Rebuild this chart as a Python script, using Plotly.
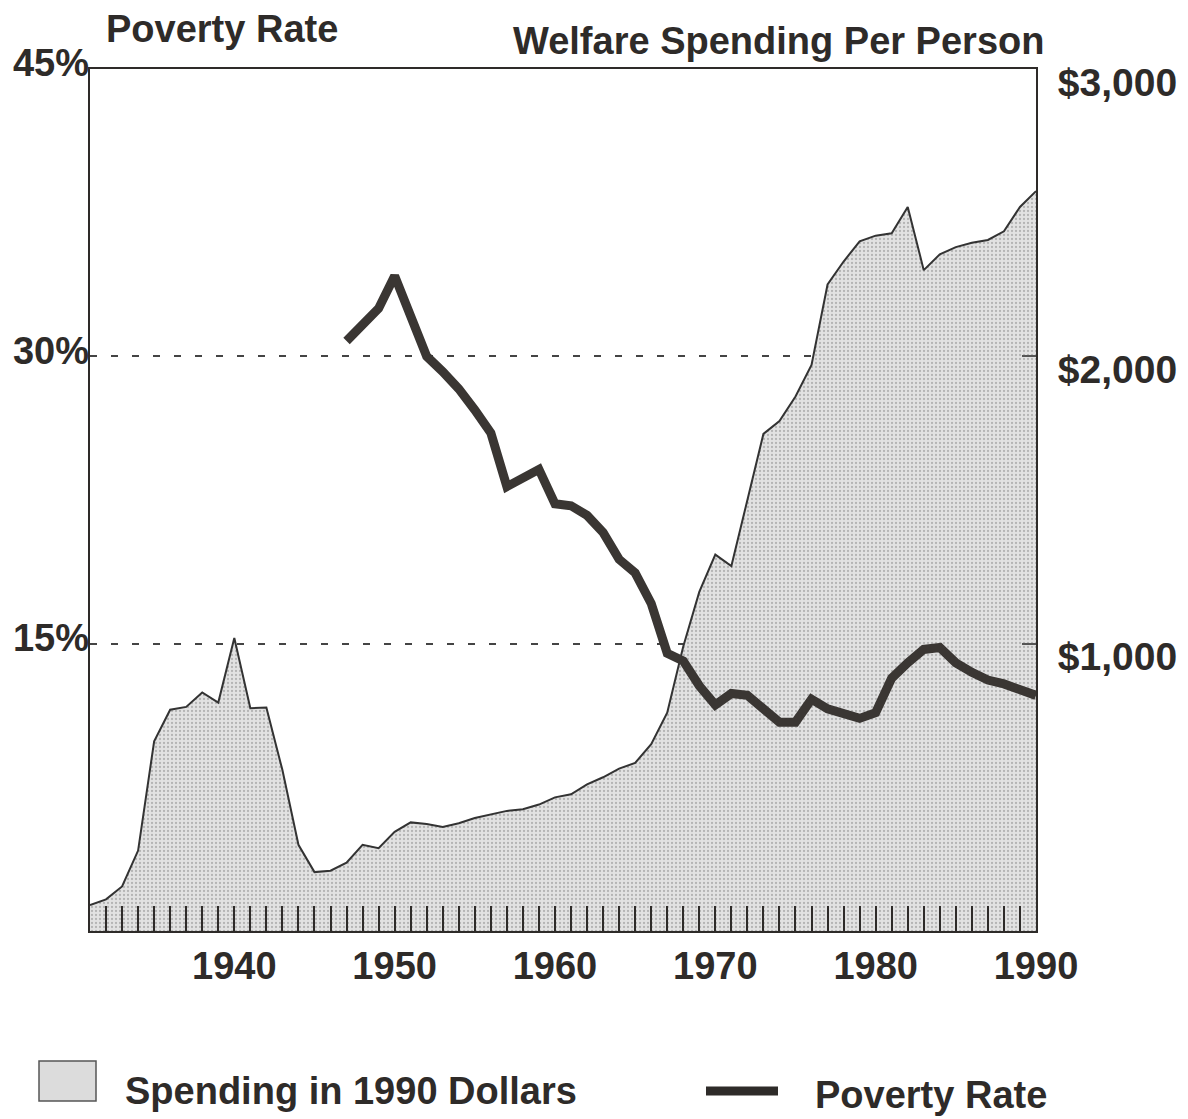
import plotly.graph_objects as go

# ---------------- data ----------------
spend_years = list(range(1931, 1991))
spending = [90, 110, 155, 280, 660, 770, 780, 830, 795, 1020,
            775, 778, 560, 300, 205, 210, 238, 300, 288, 345,
            378, 372, 362, 375, 393, 405, 418, 424, 440, 465,
            476, 510, 535, 565, 585, 650, 760, 990, 1180, 1310,
            1270, 1500, 1730, 1775, 1860, 1970, 2250, 2330, 2400, 2420,
            2428, 2520, 2300, 2355, 2380, 2395, 2405, 2435, 2520, 2575]

pov_years = list(range(1947, 1991))
poverty = [30.8, 31.7, 32.5, 34.2, 32.0, 30.0, 29.2, 28.3, 27.2, 26.0,
           23.2, 23.6, 24.1, 22.3, 22.2, 21.7, 20.8, 19.4, 18.7, 17.1,
           14.5, 14.1, 12.8, 11.8, 12.4, 12.3, 11.6, 10.9, 10.9, 12.1,
           11.6, 11.3, 11.1, 11.4, 13.2, 14.0, 14.7, 14.8, 14.0, 13.5,
           13.1, 12.9, 12.6, 12.3]

x_tick_years = list(range(1932, 1991))
x_label_years = [1940, 1950, 1960, 1970, 1980, 1990]
left_ticks = [15, 30, 45]
left_labels = ["15%", "30%", "45%"]
right_ticks = [1000, 2000, 3000]
right_labels = ["$1,000", "$2,000", "$3,000"]

INK = "#2e2b29"
FONT = "Liberation Sans"

OFF = 7                      # page offset of the figure inside the window
W, H = 1188, 1119
# plot area in window pixels
L, R, T, B = 89, 1035, 68, 930


def fx(px):                  # window px -> figure px
    return px - OFF


fig = go.Figure()

fig.add_trace(go.Scatter(
    x=spend_years, y=spending, yaxis="y", mode="lines",
    line=dict(color="#333333", width=2),
    fill="tozeroy", fillcolor="#dedede",
    fillpattern=dict(shape=".", fgcolor="#858585", bgcolor="#e2e2e2",
                     size=4, solidity=0.25),
    name="Spending in 1990 Dollars", showlegend=False,
))

fig.add_trace(go.Scatter(
    x=pov_years, y=poverty, yaxis="y2", mode="lines",
    line=dict(color="#3a3633", width=9),
    name="Poverty Rate", showlegend=False,
))

tick_text = ["<b>%d</b>" % y if y in x_label_years else "" for y in x_tick_years]

fig.update_layout(
    width=W, height=H,
    margin=dict(l=fx(L), r=W - fx(R), t=fx(T), b=H - fx(B), pad=0,
                autoexpand=False),
    paper_bgcolor="white", plot_bgcolor="white",
    font=dict(family=FONT, color=INK),
    xaxis=dict(
        range=[1931, 1990], tickmode="array",
        tickvals=x_tick_years, ticktext=tick_text,
        ticks="inside", ticklen=25, tickwidth=2, tickcolor=INK,
        tickfont=dict(size=38, family=FONT, color=INK),
        ticklabelstandoff=0, automargin=False,
        showgrid=False, zeroline=False,
        showline=True, linecolor=INK, linewidth=2, mirror=True,
    ),
    yaxis=dict(
        range=[0, 3000], side="right",
        tickmode="array", tickvals=right_ticks,
        ticktext=["<b>%s</b>" % t for t in right_labels],
        ticks="inside", ticklen=14, tickwidth=1.5, tickcolor="#555555",
        tickfont=dict(size=39, family=FONT, color=INK),
        ticklabelstandoff=12, ticklabelshift=13, automargin=False,
        showgrid=False, zeroline=False,
        showline=True, linecolor=INK, linewidth=2, mirror=True,
    ),
    yaxis2=dict(
        range=[0, 45], overlaying="y", side="left",
        tickmode="array", tickvals=left_ticks,
        ticktext=["<b>%s</b>" % t for t in left_labels],
        ticks="", tickfont=dict(size=38, family=FONT, color=INK),
        ticklabelstandoff=0, ticklabelshift=-6, automargin=False,
        showgrid=True, gridcolor="#444444", gridwidth=2,
        griddash="7px,14px",
        zeroline=False, showline=False,
    ),
)


def px_x(px):
    return (px - L) / (R - L)


def px_y(py):
    return (B - py) / (B - T)


annotations = [
    dict(text="<b>Poverty Rate</b>", x=px_x(103), y=px_y(28), xanchor="left",
         yanchor="middle", font=dict(size=38)),
    dict(text="<b>Welfare Spending Per Person</b>", x=px_x(1045), y=px_y(40),
         xanchor="right", yanchor="middle", font=dict(size=38)),
    dict(text="<b>Spending in 1990 Dollars</b>", x=px_x(122), y=px_y(1090),
         xanchor="left", yanchor="middle", font=dict(size=38)),
    dict(text="<b>Poverty Rate</b>", x=px_x(812), y=px_y(1094),
         xanchor="left", yanchor="middle", font=dict(size=38)),
]
for a in annotations:
    a.update(xref="paper", yref="paper", showarrow=False)
    a["font"].update(family=FONT, color=INK)
fig.update_layout(annotations=annotations)

fig.update_layout(shapes=[
    dict(type="rect", xref="paper", yref="paper",
         x0=px_x(38), x1=px_x(95), y0=px_y(1100), y1=px_y(1060),
         fillcolor="#dcdcdc", line=dict(color="#555555", width=1.5)),
    dict(type="line", xref="paper", yref="paper",
         x0=px_x(705), x1=px_x(777), y0=px_y(1090), y1=px_y(1090),
         line=dict(color=INK, width=9)),
])

fig.write_html("out.html")
